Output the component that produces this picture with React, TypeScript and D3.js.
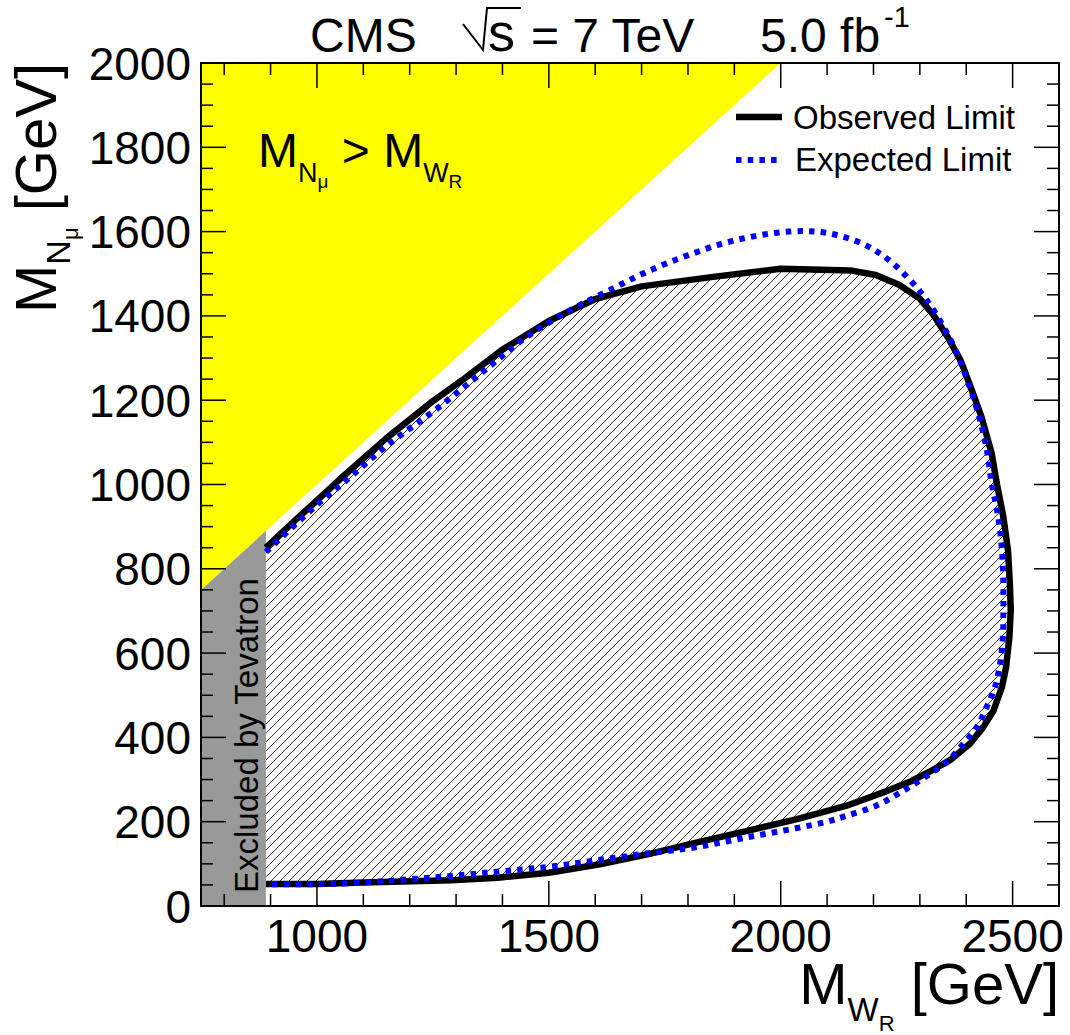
import React from 'react';
import * as d3 from 'd3';

// Observed limit contour (M_WR, M_Nmu) in GeV
const obsMW = [890, 950, 1000, 1050, 1150, 1250, 1320, 1400, 1500, 1600, 1700, 1850, 2000, 2150, 2205, 2255, 2300, 2330, 2360, 2388, 2412, 2433, 2455, 2466, 2480, 2490, 2494, 2496, 2493, 2486, 2477, 2459, 2437, 2408, 2365, 2320, 2281, 2227, 2142, 2035, 1930, 1820, 1715, 1610, 1500, 1390, 1290, 1100, 1000, 890];
const obsMN = [850, 912, 962, 1013, 1110, 1198, 1253, 1320, 1388, 1440, 1470, 1492, 1512, 1508, 1497, 1474, 1441, 1401, 1350, 1294, 1224, 1160, 1073, 1002, 923, 844, 765, 702, 638, 567, 520, 464, 425, 385, 346, 318, 296, 272, 238, 206, 179, 151, 123, 99, 79, 67, 61, 56, 52, 52];

// Expected limit contour
const expMW = [890, 1000, 1055, 1154, 1254, 1353, 1452, 1552, 1631, 1710, 1800, 1900, 2018, 2098, 2177, 2229, 2279, 2315, 2351, 2380, 2405, 2426, 2444, 2455, 2469, 2477, 2480, 2480, 2479, 2473, 2462, 2444, 2423, 2394, 2358, 2310, 2259, 2206, 2142, 2100, 2035, 1928, 1820, 1714, 1607, 1500, 1393, 1286, 1104, 1000, 890];
const expMN = [840, 952, 1002, 1095, 1176, 1263, 1350, 1417, 1461, 1504, 1544, 1579, 1600, 1597, 1571, 1536, 1485, 1437, 1374, 1311, 1239, 1168, 1085, 1002, 923, 844, 765, 702, 638, 575, 520, 472, 425, 385, 342, 305, 270, 238, 214, 200, 185, 163, 140, 125, 109, 93, 82, 71, 56, 52, 52];

const xDomain = [750, 2600];
const yDomain = [0, 2000];
const xMajorTicks = [1000, 1500, 2000, 2500];
const yMajorTicks = [0, 200, 400, 600, 800, 1000, 1200, 1400, 1600, 1800, 2000];
const tevatronLimit = 890;

const font = '"Liberation Sans", Arial, Helvetica, sans-serif';

export default function App() {
  const left = 201, right = 1059, top = 63, bottom = 906;
  const x = d3.scaleLinear().domain(xDomain).range([left, right]);
  const y = d3.scaleLinear().domain(yDomain).range([bottom, top]);

  const xMinor = d3.range(800, 2601, 100);
  const yMinor = d3.range(0, 2001, 50);

  const poly = d3.line<[number, number]>().x(d => x(d[0])).y(d => y(d[1]));
  const smooth = d3.line<[number, number]>().x(d => x(d[0])).y(d => y(d[1])).curve(d3.curveCatmullRom.alpha(0.5));
  const obs = obsMW.map((m, i) => [m, obsMN[i]] as [number, number]);
  const exp = expMW.map((m, i) => [m, expMN[i]] as [number, number]);

  const yellow: [number, number][] = [[xDomain[0], xDomain[0]], [xDomain[0], yDomain[1]], [yDomain[1], yDomain[1]]];
  const gray: [number, number][] = [[xDomain[0], 0], [xDomain[0], xDomain[0]], [tevatronLimit, tevatronLimit], [tevatronLimit, 0]];

  const major = 25, minor = 12;

  return (
    <svg width={1070} height={1035} style={{ position: 'absolute', left: 0, top: 0, background: '#fff' }} fontFamily={font}>
      <defs>
        <clipPath id="plot">
          <rect x={left} y={top} width={right - left} height={bottom - top} />
        </clipPath>
        <pattern id="hatch" patternUnits="userSpaceOnUse" width={9} height={9}>
          <path d="M0,9 L9,0 M-2,2 L2,-2 M7,11 L11,7" stroke="#000" strokeWidth={0.8} />
        </pattern>
      </defs>

      <g clipPath="url(#plot)">
        <path d={poly(yellow)! + 'Z'} fill="#ffff00" />
        <path d={poly(gray)! + 'Z'} fill="#999999" />
        <path d={poly(obs)! + 'Z'} fill="url(#hatch)" />
        <path d={poly(obs)!} fill="none" stroke="#000" strokeWidth={6.5} strokeLinejoin="round" />
        <path d={smooth(exp)!} fill="none" stroke="#0000ff" strokeWidth={6} strokeDasharray="5.5 6.2" />
      </g>

      {/* ticks on all four sides */}
      <g stroke="#000" strokeWidth={1.5}>
        {xMinor.map(t => {
          const len = xMajorTicks.includes(t) ? major : minor;
          return (
            <g key={'x' + t}>
              <line x1={x(t)} x2={x(t)} y1={bottom} y2={bottom - len} />
              <line x1={x(t)} x2={x(t)} y1={top} y2={top + len} />
            </g>
          );
        })}
        {yMinor.map(t => {
          const len = yMajorTicks.includes(t) ? major : minor;
          return (
            <g key={'y' + t}>
              <line x1={left} x2={left + len} y1={y(t)} y2={y(t)} />
              <line x1={right} x2={right - len} y1={y(t)} y2={y(t)} />
            </g>
          );
        })}
      </g>
      <rect x={left} y={top} width={right - left} height={bottom - top} fill="none" stroke="#000" strokeWidth={2} />

      {/* tick labels */}
      <g fontSize={46} fill="#000">
        {xMajorTicks.map(t => (
          <text key={t} x={x(t)} y={952} textAnchor="middle">{t}</text>
        ))}
        {yMajorTicks.map(t => (
          <text key={t} x={191} y={y(t) + 16.5} textAnchor="end">{t}</text>
        ))}
      </g>

      {/* axis titles */}
      <text x={right} y={1004} fontSize={58} textAnchor="end" xmlSpace="preserve" style={{ whiteSpace: 'pre' }}>
        <tspan>M</tspan>
        <tspan fontSize={33} dy={17}>W</tspan>
        <tspan fontSize={22} dy={10}>R</tspan>
        <tspan fontSize={58} dy={-27}> [GeV]</tspan>
      </text>
      <text transform="translate(56,63) rotate(-90)" fontSize={58} textAnchor="end" xmlSpace="preserve" style={{ whiteSpace: 'pre' }}>
        <tspan>M</tspan>
        <tspan fontSize={34} dy={14}>N</tspan>
        <tspan fontSize={22} dy={8}>μ</tspan>
        <tspan fontSize={58} dy={-22}> [GeV]</tspan>
      </text>

      {/* header */}
      <text x={310} y={52} fontSize={48}>CMS</text>
      <path d="M463,24 L483,50 L487,8 L521,8" fill="none" stroke="#000" strokeWidth={2} />
      <text x={488} y={51} fontSize={54}>s</text>
      <text x={531} y={52} fontSize={48} xmlSpace="preserve" style={{ whiteSpace: 'pre' }}>= 7 TeV</text>
      <text x={760} y={52} fontSize={48}>5.0 fb</text>
      <text x={884} y={27} fontSize={29}>-1</text>

      {/* region label */}
      <text x={258} y={167} fontSize={48} xmlSpace="preserve" style={{ whiteSpace: 'pre' }}>
        <tspan>M</tspan>
        <tspan fontSize={27} dy={15}>N</tspan>
        <tspan fontSize={19} dy={6}>μ</tspan>
        <tspan fontSize={48} dy={-21}> &gt; M</tspan>
        <tspan fontSize={27} dy={15}>W</tspan>
        <tspan fontSize={19} dy={6}>R</tspan>
      </text>

      <text transform="translate(258,893) rotate(-90)" fontSize={33}>Excluded by Tevatron</text>

      {/* legend */}
      <line x1={736} x2={782} y1={117} y2={117} stroke="#000" strokeWidth={6.5} />
      <text x={793} y={129} fontSize={33}>Observed Limit</text>
      <line x1={736} x2={779} y1={160} y2={160} stroke="#0000ff" strokeWidth={6} strokeDasharray="5.5 6.2" />
      <text x={795} y={171} fontSize={33}>Expected Limit</text>
    </svg>
  );
}
